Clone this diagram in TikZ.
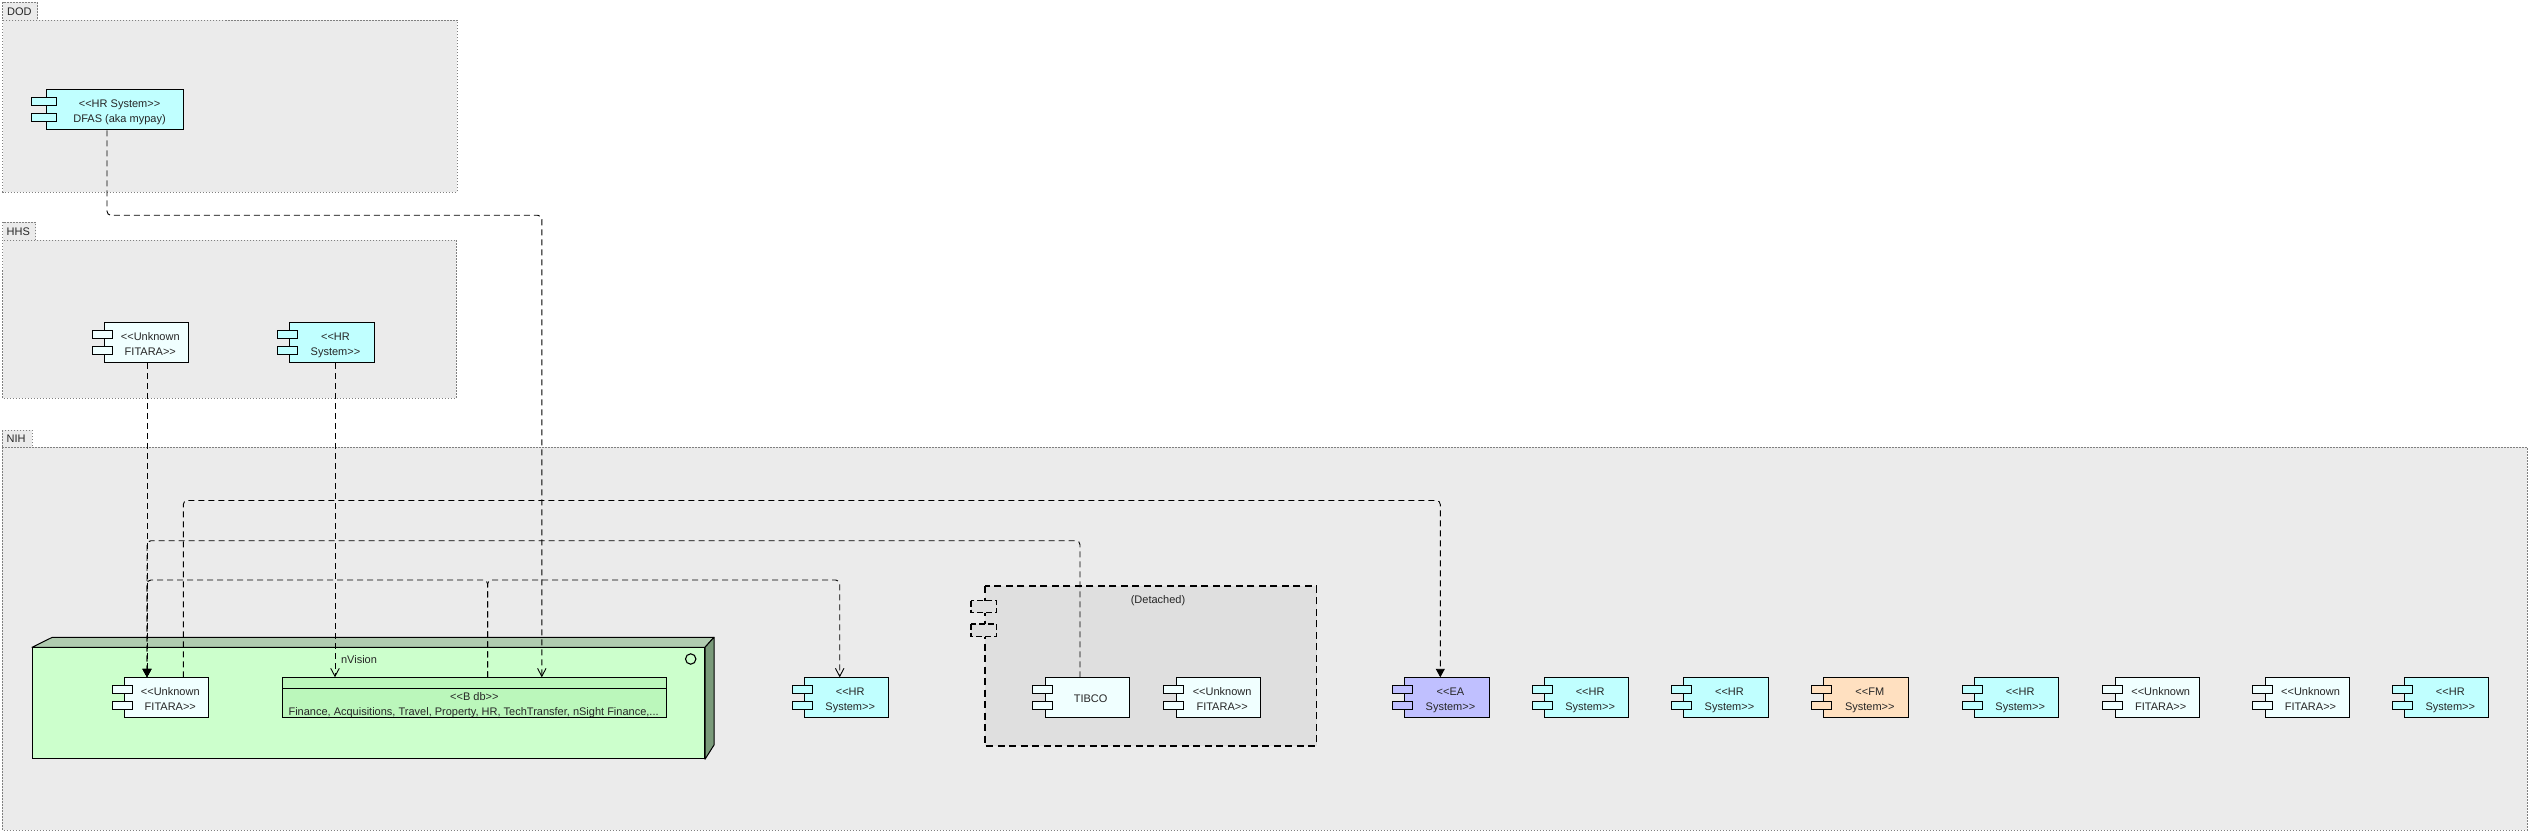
\documentclass[tikz,border=0pt]{standalone}
\usepackage{fontspec}
\newfontfamily\uifont{Liberation Sans}
\usetikzlibrary{arrows.meta,calc}
\definecolor{pkgfill}{HTML}{EBEBEB}
\definecolor{pkgline}{HTML}{808080}
\definecolor{hrfill}{HTML}{C0FFFF}
\definecolor{unkfill}{HTML}{F0FFFF}
\definecolor{eafill}{HTML}{C0C0FF}
\definecolor{fmfill}{HTML}{FFE0C0}
\definecolor{nodefront}{HTML}{CCFFCC}
\definecolor{nodetop}{HTML}{B0CCB0}
\definecolor{nodeside}{HTML}{7A9A7A}
\definecolor{dbfill}{HTML}{BBF7BB}
\definecolor{detfill}{HTML}{DFDFDF}
\tikzset{
  txt/.style={font=\uifont\fontsize{11}{13}\selectfont, inner sep=0pt, text=black!85},
  pkgbody/.style={draw=pkgline, fill=pkgfill, line width=0.8pt, dash pattern=on 1.5pt off 1.5pt},
  compbody/.style={draw=black, line width=1pt, minimum height=40pt, inner sep=0pt, rectangle},
  portbox/.style={draw=black, line width=0.9pt},
  dep/.style={draw=black, line width=0.9pt, dash pattern=on 6pt off 4pt, rounded corners=4pt},
  openhead/.style={-{Straight Barb[length=8pt,width=8.5pt,line width=0.9pt]}},
  fillhead/.style={-{Triangle[length=8.5pt,width=9pt]}},
}
% name, x, y, width, port width, fill, line1, line2
\newcommand\mycomp[8]{%
  \node[compbody, fill=#6, minimum width=#4pt, anchor=north west] (#1) at (#2,#3) {};
  \draw[portbox, fill=#6] ($(#1.north west)+({-0.6*#5},8.2)$) rectangle ++(#5,7.8);
  \draw[portbox, fill=#6] ($(#1.north west)+({-0.6*#5},23.8)$) rectangle ++(#5,8.2);
  \node[txt, anchor=base] (#1-a) at ($(#1.north west)+({(0.4*#5+#4)/2},17.8)$) {#7};
  \node[txt, anchor=base] (#1-b) at ($(#1.north west)+({(0.4*#5+#4)/2},32.8)$) {#8};
}
\begin{document}
\begin{tikzpicture}[x=1pt,y=-1pt]
\useasboundingbox (0,0) rectangle (2531,834);
\fill[white] (0,0) rectangle (2531,834);

% ---------- packages ----------
\draw[pkgbody] (2.5,2.3) rectangle (37.5,20);
\node[txt, anchor=west] (dodlabel) at (7,11.5) {DOD};
\draw[pkgbody] (2.5,20) rectangle (457,192);

\draw[pkgbody] (2.5,222) rectangle (35.7,240);
\node[txt, anchor=west] (hhslabel) at (6.5,231.5) {HHS};
\draw[pkgbody] (2.5,240) rectangle (456.4,398);

\draw[pkgbody] (2.3,430) rectangle (32,447.3);
\node[txt, anchor=west] (nihlabel) at (6.5,439) {NIH};
\draw[pkgbody] (2.3,447.3) rectangle (2527.3,830);

% ---------- DOD / HHS components ----------
\mycomp{dfas}{46.4}{89.3}{136.1}{25.5}{hrfill}{<<HR System>>}{DFAS (aka mypay)}
\mycomp{hhsfit}{104.3}{322.3}{84}{20}{unkfill}{<<Unknown}{FITARA>>}
\mycomp{hhshr}{289.3}{322.3}{84.3}{20}{hrfill}{<<HR}{System>>}

% ---------- nVision node ----------
\node[draw=black, line width=1pt, fill=nodefront, minimum width=672pt, minimum height=111pt,
      inner sep=0pt, anchor=north west] (nvision) at (32,647.3) {};
\draw[line width=1pt, fill=nodetop, line join=round]
  (nvision.north west) -- ++(20.3,-10) -- (714,637.3) -- (nvision.north east) -- cycle;
\draw[line width=1pt, fill=nodeside, line join=round]
  (nvision.north east) -- (714,637.3) -- (714,745) -- (nvision.south east) -- cycle;
\node[txt, anchor=base] (nvlabel) at (359,663.5) {nVision};
\draw[line width=1.1pt] (690.7,659) circle (5.2);

\mycomp{nihfit}{124.3}{677.3}{84}{20}{unkfill}{<<Unknown}{FITARA>>}

\node[draw=black, line width=1pt, fill=dbfill, minimum width=383.9pt, minimum height=40pt,
      inner sep=0pt, anchor=north west] (bdb) at (282.4,677.3) {};
\draw[line width=1pt] (bdb.north west |- 0,688.3) -- (bdb.north east |- 0,688.3);
\node[txt, anchor=base] (bdb-a) at (474.4,700.3) {<<B db>>};
\node[txt, anchor=base] (bdb-b) at (473.6,715.3) {Finance, Acquisitions, Travel, Property, HR, TechTransfer, nSight Finance,...};

% ---------- NIH components ----------
\mycomp{ehr}{804}{677.3}{84.4}{20}{hrfill}{<<HR}{System>>}

% Detached container
\draw[fill=detfill, line width=1.8pt, dash pattern=on 7pt off 4.5pt] (985,586) rectangle (1316.5,745.7);
\node[txt, anchor=base] (detlabel) at (1158,603.3) {(Detached)};
\draw[fill=detfill, line width=1.4pt, dash pattern=on 6pt off 3pt] (971,600.7) rectangle (996.7,612.7);
\draw[fill=detfill, line width=1.4pt, dash pattern=on 6pt off 3pt] (971,624) rectangle (996.7,636.7);

\node[compbody, fill=unkfill, minimum width=84pt, anchor=north west] (tibco) at (1044.6,677.3) {};
\draw[portbox, fill=unkfill] ($(tibco.north west)+(-12,8.2)$) rectangle ++(20,7.8);
\draw[portbox, fill=unkfill] ($(tibco.north west)+(-12,23.8)$) rectangle ++(20,8.2);
\node[txt, anchor=base] (tibco-a) at ($(tibco.north west)+(46,24.8)$) {TIBCO};

\mycomp{detfit}{1175.9}{677.3}{84.4}{20}{unkfill}{<<Unknown}{FITARA>>}

\mycomp{ea}{1404.3}{677.3}{84.3}{20}{eafill}{<<EA}{System>>}
\mycomp{hr2}{1544}{677.3}{84.3}{20}{hrfill}{<<HR}{System>>}
\mycomp{hr3}{1683.3}{677.3}{84.3}{20}{hrfill}{<<HR}{System>>}
\mycomp{fm}{1823.3}{677.3}{85}{20}{fmfill}{<<FM}{System>>}
\mycomp{hr4}{1974}{677.3}{84.3}{20}{hrfill}{<<HR}{System>>}
\mycomp{uf1}{2114.7}{677.3}{84}{20}{unkfill}{<<Unknown}{FITARA>>}
\mycomp{uf2}{2264.5}{677.3}{84}{20}{unkfill}{<<Unknown}{FITARA>>}
\mycomp{hr5}{2404.3}{677.3}{84}{20}{hrfill}{<<HR}{System>>}

% ---------- connectors ----------
\draw[dep, openhead] ([xshift=60.6pt]dfas.south west) -- ++(0,85) -| ([xshift=259.4pt]bdb.north west);
\draw[dep, fillhead] ([xshift=42.7pt]hhsfit.south west) -- ([xshift=22.7pt]nihfit.north west);
\draw[dep, openhead] ([xshift=45.7pt]hhshr.south west) -- ([xshift=52.6pt]bdb.north west);
\draw[dep, fillhead] ([xshift=59pt]nihfit.north west) -- ++(0,-176.8) -| ([xshift=36pt]ea.north west);
\draw[dep, fillhead] ([xshift=35.4pt]tibco.north west) -- ++(0,-136.6) -| ([xshift=22.7pt]nihfit.north west);
\draw[dep, fillhead] ([xshift=205.2pt]bdb.north west) -- ++(0,-97.3) -| ([xshift=22.7pt]nihfit.north west);
\draw[dep, openhead] ([xshift=205.2pt]bdb.north west) -- ++(0,-97.3) -| ([xshift=35.7pt]ehr.north west);
\end{tikzpicture}
\end{document}
